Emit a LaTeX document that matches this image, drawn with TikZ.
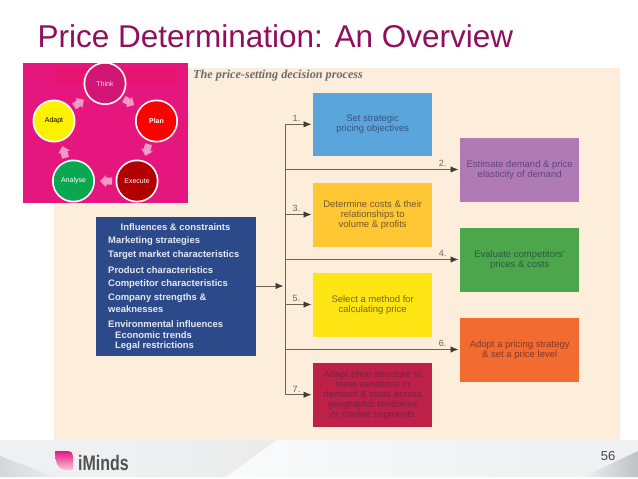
\documentclass[tikz,border=0pt]{standalone}
\usepackage{fontspec}
\setmainfont{Liberation Sans}
\newfontfamily\serifit{Liberation Serif}
\usetikzlibrary{arrows.meta}
\definecolor{cream}{HTML}{FDEEDC}
\definecolor{magentabg}{HTML}{E5177F}
\definecolor{titlecol}{HTML}{8E0F5C}
\definecolor{linecol}{HTML}{6B6457}
\definecolor{tipcol}{HTML}{3F3D38}
\definecolor{blockcol}{HTML}{EE9CC4}
\definecolor{cblue}{HTML}{5AA5DC}\definecolor{tblue}{HTML}{35577F}
\definecolor{cpurple}{HTML}{B07AB4}\definecolor{tpurple}{HTML}{5E4583}
\definecolor{camber}{HTML}{FEC733}\definecolor{tamber}{HTML}{75592B}
\definecolor{cgreen}{HTML}{4CA64C}\definecolor{tgreen}{HTML}{2C5C3E}
\definecolor{cyell}{HTML}{FFE514}\definecolor{tyell}{HTML}{6E6A12}
\definecolor{corange}{HTML}{F26B30}\definecolor{torange}{HTML}{84382B}
\definecolor{cred}{HTML}{BE2148}\definecolor{tred}{HTML}{7F1F45}
\definecolor{cnavy}{HTML}{2C4A8A}
\definecolor{tnavy}{HTML}{E6E9F3}
\definecolor{footbase}{HTML}{EEF0F2}
\definecolor{footdark}{HTML}{D3D7DB}
\tikzset{
  x=1pt,y=-1pt,
  stage/.style={circle,minimum size=39.5pt,inner sep=0pt,font=\fontsize{7}{8}\selectfont},
  proc/.style={anchor=north west,minimum width=119pt,minimum height=63.5pt,inner sep=0pt,align=center,font=\fontsize{9.5}{10}\selectfont},
  conn/.style={draw=linecol,line width=0.9pt,shorten >=1.5pt,-{Latex[length=8pt,width=6.5pt,color=tipcol]}},
  trunk/.style={draw=linecol,line width=0.9pt},
  numlab/.style={font=\fontsize{9}{10}\selectfont,text=linecol,inner sep=0pt},
  blockarrow/.style={fill=blockcol},
  inf/.style={anchor=west,inner sep=0pt,text=tnavy,font=\bfseries\fontsize{9.45}{10}\selectfont}
}
\newcommand{\blockarrowat}[3]{\fill[blockarrow,shift={(#1,#2)},rotate=#3] (-6,-3.5) -- (0,-3.5) -- (0,-6) -- (6,0) -- (0,6) -- (0,3.5) -- (-6,3.5) -- cycle;}
\begin{document}
\begin{tikzpicture}
\useasboundingbox (0,0) rectangle (638,479);
\fill[white] (0,0) rectangle (638,479);
% footer
\fill[footbase] (0,440) rectangle (638,477);
\shade[left color=footdark,right color=footbase] (0,456) .. controls (20,464) and (40,471) .. (60,477) -- (0,477) -- cycle;
\shade[left color=footbase,right color=black!8] (120,440) -- (277,440) -- (226,477) -- (120,477) -- cycle;
\shade[left color=white!70!footbase,right color=footbase] (277,440) -- (226,477) -- (520,477) -- (570,440) -- cycle;
\shade[left color=footbase,right color=footdark!90!black] (638,451) -- (638,477) -- (583,477) -- cycle;
% cream panel
\fill[cream] (54,68) rectangle (620,440);
\node[anchor=west,inner sep=0pt,font=\serifit\itshape\bfseries\fontsize{12.2}{14}\selectfont,text=black!58] (heading) at (193,76) {The price-setting decision process};
% title
\node[anchor=base west,inner sep=0pt,text=titlecol,font=\fontsize{31.5}{34}\selectfont] (title) at (37.5,47) {Price Determination: An Overview};
% process boxes
\node[proc,fill=cblue,text=tblue] (b1) at (313,92.5) {Set strategic\\pricing objectives};
\node[proc,fill=cpurple,text=tpurple] (b2) at (460,138) {Estimate demand \& price\\elasticity of demand};
\node[proc,fill=camber,text=tamber] (b3) at (313,183) {Determine costs \& their\\relationships to\\volume \& profits};
\node[proc,fill=cgreen,text=tgreen] (b4) at (460,228) {Evaluate competitors'\\prices \& costs};
\node[proc,fill=cyell,text=tyell] (b5) at (313,273) {Select a method for\\calculating price};
\node[proc,fill=corange,text=torange] (b6) at (460,318) {Adopt a pricing strategy\\\& set a price level};
\node[proc,fill=cred,text=tred] (b7) at (313,363) {Adapt price structure to\\meet variations in\\demand \& costs across\\geographic territories\\or market segments};
% influences
\node[anchor=north west,fill=cnavy,minimum width=159.5pt,minimum height=138.5pt,inner sep=0pt] (inf) at (96,217) {};
\node[inf,anchor=center] (i0) at (175.5,227) {Influences \& constraints};
\node[inf] (i1) at (108,241) {Marketing strategies};
\node[inf] (i2) at (108,255.5) {Target market characteristics};
\node[inf] (i3) at (108,269.8) {Product characteristics};
\node[inf] (i4) at (108,284) {Competitor characteristics};
\node[inf] (i5) at (108,298.5) {Company strengths \&};
\node[inf] (i6) at (108,309.5) {weaknesses};
\node[inf] (i7) at (108,323.8) {Environmental influences};
\node[inf] (i8) at (115,334.8) {Economic trends};
\node[inf] (i9) at (115,345.8) {Legal restrictions};
% connectors
\coordinate (t1) at (285,124.3);
\coordinate (t2) at (285,169.5);
\coordinate (t3) at (285,214.5);
\coordinate (t4) at (285,259.5);
\coordinate (t5) at (285,304.5);
\coordinate (t6) at (285,349.5);
\coordinate (t7) at (285,394.7);
\coordinate (tm) at (285,286);
\draw[trunk] (t1) -- (t7);
\draw[conn] (t1) -- (b1.west|-t1);
\draw[conn] (t2) -- (b2.west|-t2);
\draw[conn] (t3) -- (b3.west|-t3);
\draw[conn] (t4) -- (b4.west|-t4);
\draw[conn] (t5) -- (b5.west|-t5);
\draw[conn] (t6) -- (b6.west|-t6);
\draw[conn] (t7) -- (b7.west|-t7);
\draw[conn] (inf.east|-tm) -- (tm);
\node[numlab] (n1) at (296.5,118.5) {1.};
\node[numlab] (n2) at (442.5,163.5) {2.};
\node[numlab] (n3) at (296.5,208.5) {3.};
\node[numlab] (n4) at (442.5,253) {4.};
\node[numlab] (n5) at (296.5,298.5) {5.};
\node[numlab] (n6) at (442.5,343.5) {6.};
\node[numlab] (n7) at (296.5,389) {7.};
% cycle inset
\fill[magentabg] (23,63) rectangle (188,203);
\fill[red,opacity=.1] (54,68) rectangle (178,85);
\fill[white] (105,83.5) circle (21.5);
\fill[white] (156.5,121) circle (21.5);
\fill[white] (137,181) circle (21.5);
\fill[white] (73.5,181) circle (21.5);
\fill[white] (54,121) circle (21.5);
\node[stage,fill=magentabg!92!black,text=white!85!magenta] (think) at (105,83.5) {Think};
\node[stage,fill=red,text=white,font=\bfseries\fontsize{7}{8}\selectfont] (plan) at (156.5,121) {Plan};
\node[stage,fill=red!70!black,text=white] (execute) at (137,181) {Execute};
\node[stage,fill={rgb,255:red,10;green,166;blue,80},text=white] (analyse) at (73.5,181) {Analyse};
\node[stage,fill=yellow,text=black] (adapt) at (54,121) {Adapt};
\blockarrowat{129}{102}{-30}
\blockarrowat{147}{150}{-105}
\blockarrowat{106}{181}{180}
\blockarrowat{64}{152}{105}
\blockarrowat{79}{103}{35}
% footer items
\shade[top color=magentabg,bottom color=magentabg!25!white] (55,451) -- (68,451) .. controls (71,451) and (73,453) .. (73,456) -- (73,470) -- (66,470) .. controls (59,470) and (55,464) .. (55,451) -- cycle;
\node[anchor=base west,inner sep=0pt,xscale=.76,font=\bfseries\fontsize{21}{22}\selectfont,text=black!68] (logo) at (78,470) {iMinds};
\node[inner sep=0pt,font=\fontsize{13}{14}\selectfont,text=black!72] (pg) at (608,456.5) {56};
\end{tikzpicture}
\end{document}
